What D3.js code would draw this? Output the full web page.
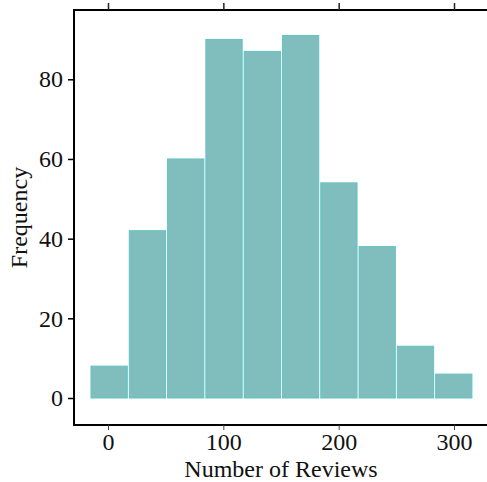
<!DOCTYPE html>
<html><head><meta charset="utf-8">
<script src="https://cdn.jsdelivr.net/npm/d3@7"></script>
<style>html,body{margin:0;padding:0;background:#fff;overflow:hidden}</style>
</head><body>
<script>
// Data
const binStarts = [-15.6, 17.6, 50.8, 84.0, 117.2, 150.4, 183.6, 216.8, 250.0, 283.2];
const binWidth = 33.2;
const counts = [8, 42, 60, 90, 87, 91, 54, 38, 13, 6];
const xTicks = [0, 100, 200, 300];
const yTicks = [0, 20, 40, 60, 80];
const xLabel = "Number of Reviews";
const yLabel = "Frequency";

(function () {
const W = 487, H = 482;
const svg = d3.select("body").append("svg").attr("width", W).attr("height", H);
const x = d3.scaleLinear().domain([0, 300]).range([108, 454]);
const y = d3.scaleLinear().domain([0, 80]).range([398, 79.3]);
const pLeft = 74, pTop = 10, pBottom = 425, pRight = W;
const font = "'Liberation Serif', 'DejaVu Serif', serif";
const fs = 24;

// bars
svg.append("g").selectAll("rect").data(counts).join("rect")
  .attr("x", (d, i) => x(binStarts[i]) + 1)
  .attr("width", (d, i) => x(binStarts[i] + binWidth) - x(binStarts[i]) - 2)
  .attr("y", d => y(d))
  .attr("height", d => y(0) - y(d))
  .attr("fill", "#80bebe")
  .attr("stroke", "#62c3c3")
  .attr("stroke-width", 1);

// axes frame
const ax = svg.append("g").attr("stroke", "#000").attr("stroke-width", 2);
ax.append("line").attr("x1", pLeft).attr("x2", pLeft).attr("y1", pTop - 1).attr("y2", pBottom + 1);
ax.append("line").attr("x1", pLeft).attr("x2", pRight).attr("y1", pTop).attr("y2", pTop);
ax.append("line").attr("x1", pLeft).attr("x2", pRight).attr("y1", pBottom).attr("y2", pBottom);

// y ticks
const yAxis = d3.axisLeft(y).tickValues(yTicks).tickSize(6).tickPadding(5);
const gy = svg.append("g").attr("transform", `translate(${pLeft},0)`).call(yAxis);
gy.select(".domain").remove();
gy.selectAll(".tick line").attr("stroke", "#000").attr("stroke-width", 1.5);
gy.selectAll(".tick text").attr("font-family", font).attr("font-size", fs).attr("fill", "#111");

// x ticks bottom
const xAxis = d3.axisBottom(x).tickValues(xTicks).tickSize(5).tickPadding(3);
const gx = svg.append("g").attr("transform", `translate(0,${pBottom})`).call(xAxis);
gx.select(".domain").remove();
gx.selectAll(".tick line").attr("stroke", "#444").attr("stroke-width", 1);
gx.selectAll(".tick text").attr("font-family", font).attr("font-size", fs).attr("fill", "#111");

// x ticks top
const xAxisTop = d3.axisTop(x).tickValues(xTicks).tickSize(7).tickFormat("");
const gt = svg.append("g").attr("transform", `translate(0,${pTop})`).call(xAxisTop);
gt.select(".domain").remove();
gt.selectAll(".tick line").attr("stroke", "#222").attr("stroke-width", 1.5);

// titles
svg.append("text").attr("x", 281).attr("y", 477)
  .attr("text-anchor", "middle").attr("font-family", font).attr("font-size", fs)
  .attr("fill", "#111").text(xLabel);
svg.append("text").attr("transform", `translate(27,${(pTop + pBottom) / 2}) rotate(-90)`)
  .attr("text-anchor", "middle").attr("font-family", font).attr("font-size", fs)
  .attr("fill", "#111").text(yLabel);
})();
</script>
</body></html>
